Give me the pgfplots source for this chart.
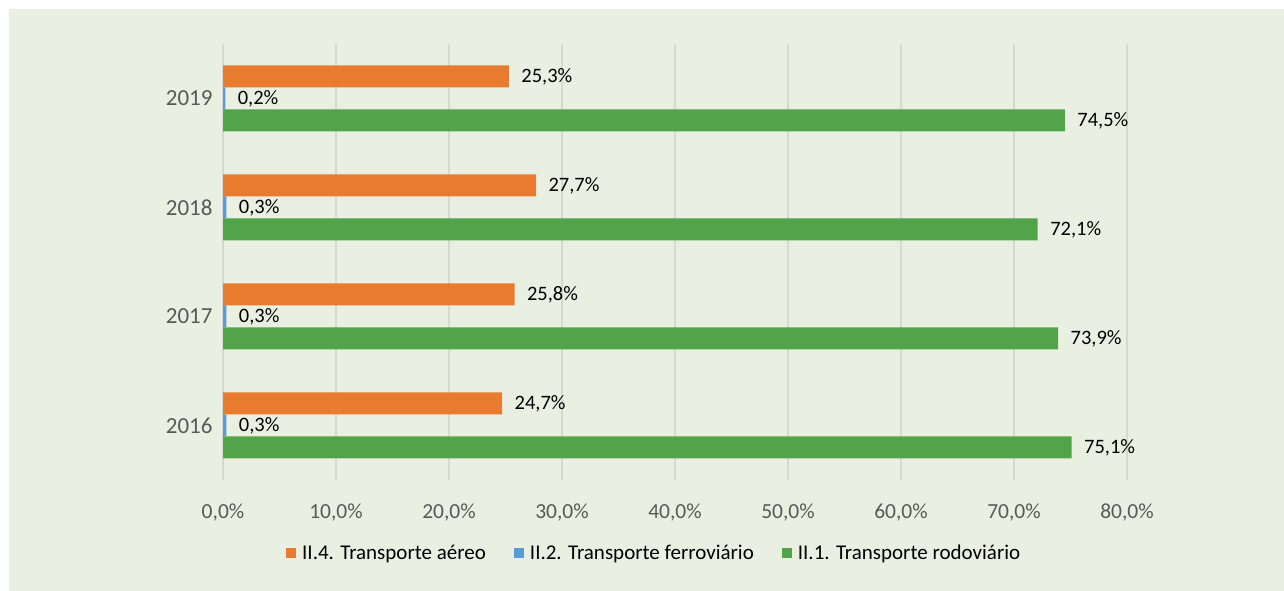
\documentclass[border=0pt]{standalone}
\usepackage{pgfplots}
\pgfplotsset{compat=1.18}
\usepackage{fontspec}
\setmainfont{Carlito}
\definecolor{bg}{HTML}{E9F0E1}
\definecolor{gridc}{HTML}{D6D9D3}
\definecolor{tickc}{HTML}{595959}
\definecolor{orangec}{HTML}{E97B31}
\definecolor{bluec}{HTML}{5B9BD5}
\definecolor{greenc}{HTML}{51A449}
\begin{document}
\begin{tikzpicture}[x=1pt,y=1pt]
\fill[white] (0,0) rectangle (1284,591);
\fill[bg] (9,0) rectangle (1284,582);
\begin{axis}[
  at={(223pt,111pt)}, anchor=south west,
  scale only axis, width=904pt, height=436pt,
  xmin=0, xmax=80, ymin=-0.5, ymax=3.5,
  xbar, bar width=22pt,
  ytick={0,1,2,3}, yticklabels={2016,2017,2018,2019},
  xtick={0,10,...,80},
  xmajorgrids, grid style={draw=gridc, line width=1.5pt},
  axis line style={draw=none}, major tick length=0pt,
  tick label style={text=tickc},
  xticklabel style={font=\fontsize{21.5}{25}\selectfont, yshift=-20pt},
  yticklabel style={font=\fontsize{23}{27}\selectfont, xshift=-7pt},
  /pgf/number format/assume math mode=true,
  xticklabel={\pgfmathprintnumber[fixed,fixed zerofill,precision=1,use comma]{\tick}\%},
  nodes near coords={\pgfmathprintnumber[fixed,fixed zerofill,precision=1,use comma]{\pgfplotspointmeta}\%},
  every node near coord/.append style={font=\fontsize{20.5}{24}\selectfont, text=black, xshift=9pt},
  legend columns=3,
  legend style={at={(0.477,-0.167)}, anchor=center, draw=none, fill=none,
    font=\fontsize{21}{25}\selectfont, text=black,
    /tikz/every even column/.append style={column sep=26pt}},
  legend image code/.code={\fill[#1,draw=none] (0pt,-5pt) rectangle (10pt,5pt); \path (0pt,0pt) (14pt,0pt);},
]
\addplot[fill=orangec, draw=none, bar shift=22pt] coordinates {(24.7,0) (25.8,1) (27.7,2) (25.3,3)};
\addlegendentry{II.4. Transporte aéreo}
\addplot[fill=bluec, draw=none, bar shift=0pt] coordinates {(0.3,0) (0.3,1) (0.3,2) (0.2,3)};
\addlegendentry{II.2. Transporte ferroviário}
\addplot[fill=greenc, draw=none, bar shift=-22pt] coordinates {(75.1,0) (73.9,1) (72.1,2) (74.5,3)};
\addlegendentry{II.1. Transporte rodoviário}
\end{axis}
\end{tikzpicture}
\end{document}
